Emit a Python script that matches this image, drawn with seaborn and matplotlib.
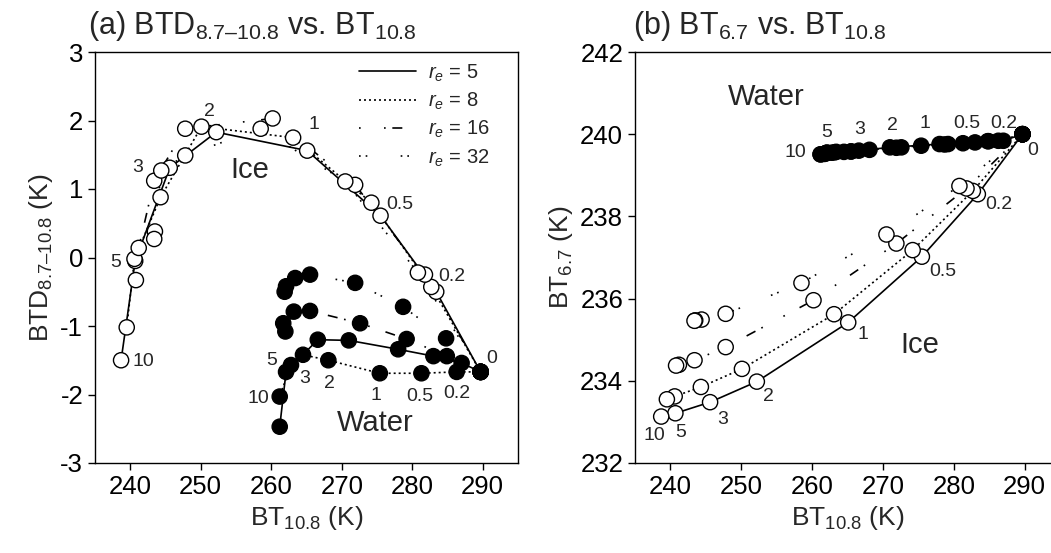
import numpy as np
import pandas as pd
import matplotlib
matplotlib.use('Agg')
import matplotlib.pyplot as plt
import seaborn as sns
from matplotlib.lines import Line2D

# optical depths and effective radii
tau = [0, 0.2, 0.5, 1, 2, 3, 5, 10]
re_list = [5, 8, 16, 32]

# ---- ice clouds ----
ice_bt108_re5 = [289.7, 283.4, 275.5, 265.1, 252.2, 245.6, 240.7, 238.7]
ice_bt108_re8 = [289.7, 282.7, 274.2, 263.1, 250.1, 244.3, 240.6, 239.5]
ice_bt108_re16 = [289.7, 281.8, 271.9, 260.2, 247.8, 243.4, 241.2, 240.8]
ice_bt108_re32 = [289.7, 280.8, 270.5, 258.5, 247.8, 244.4, 243.5, 243.4]

ice_btd_re5 = [-1.67, -0.50, 0.61, 1.56, 1.83, 1.31, -0.05, -1.50]
ice_btd_re8 = [-1.67, -0.43, 0.80, 1.75, 1.91, 0.88, -0.02, -1.02]
ice_btd_re16 = [-1.67, -0.25, 1.06, 2.03, 1.88, 1.12, 0.14, -0.33]
ice_btd_re32 = [-1.67, -0.22, 1.11, 1.88, 1.49, 1.27, 0.38, 0.27]

ice_bt67_re5 = [240.0, 238.54, 237.02, 235.42, 233.98, 233.48, 233.21, 233.13]
ice_bt67_re8 = [240.0, 238.62, 237.18, 235.62, 234.29, 233.85, 233.62, 233.55]
ice_bt67_re16 = [240.0, 238.68, 237.34, 235.96, 234.82, 234.50, 234.39, 234.37]
ice_bt67_re32 = [240.0, 238.74, 237.56, 236.38, 235.63, 235.49, 235.47, 235.46]

# ---- water clouds ----
wat_bt108_re5 = [289.7, 287.0, 283.0, 278.0, 271.0, 266.6, 262.1, 261.2]
wat_bt108_re8 = [289.7, 286.3, 281.3, 275.4, 268.1, 264.5, 262.8, 261.2]
wat_bt108_re16 = [289.7, 284.9, 279.2, 272.6, 265.5, 263.2, 262.0, 261.7]
wat_bt108_re32 = [289.7, 284.8, 278.7, 271.9, 265.5, 263.4, 262.1, 261.9]

wat_btd_re5 = [-1.67, -1.54, -1.44, -1.34, -1.21, -1.20, -1.67, -2.47]
wat_btd_re8 = [-1.67, -1.67, -1.69, -1.69, -1.50, -1.42, -1.57, -2.03]
wat_btd_re16 = [-1.67, -1.44, -1.19, -0.96, -0.78, -0.79, -1.08, -0.96]
wat_btd_re32 = [-1.67, -1.18, -0.72, -0.37, -0.25, -0.30, -0.42, -0.50]

wat_bt67_re5 = [240.0, 239.84, 239.80, 239.76, 239.68, 239.60, 239.55, 239.51]
wat_bt67_re8 = [240.0, 239.84, 239.78, 239.72, 239.62, 239.57, 239.55, 239.51]
wat_bt67_re16 = [240.0, 239.83, 239.76, 239.68, 239.58, 239.56, 239.54, 239.52]
wat_bt67_re32 = [240.0, 239.83, 239.75, 239.67, 239.58, 239.57, 239.55, 239.53]

# tau labels (text, x, y) for each panel
lab_a_ice = [('10', 241.8, -1.52), ('5', 237.9, -0.08), ('3', 241.1, 1.31), ('2', 251.3, 2.13),
             ('1', 266.0, 1.94), ('0.5', 278.2, 0.78), ('0.2', 285.6, -0.28)]
lab_a_wat = [('10', 258.2, -2.06), ('5', 260.1, -1.50), ('3', 264.8, -1.76), ('2', 268.3, -1.84),
             ('1', 274.9, -2.01), ('0.5', 281.1, -2.03), ('0.2', 286.3, -1.98), ('0', 291.2, -1.47)]
lab_b_ice = [('10', 237.7, 232.68), ('5', 241.5, 232.74), ('3', 247.4, 233.05), ('2', 253.8, 233.62),
             ('1', 267.2, 235.12), ('0.5', 278.4, 236.67), ('0.2', 286.4, 238.29)]
lab_b_wat = [('10', 257.6, 239.55), ('5', 262.0, 240.04), ('3', 266.7, 240.12), ('2', 271.4, 240.20),
             ('1', 275.9, 240.27), ('0.5', 281.8, 240.27), ('0.2', 287.1, 240.27), ('0', 291.1, 239.60)]

# tabela longa
rows = []
series = {
    ('Ice', 5): (ice_bt108_re5, ice_btd_re5, ice_bt67_re5),
    ('Ice', 8): (ice_bt108_re8, ice_btd_re8, ice_bt67_re8),
    ('Ice', 16): (ice_bt108_re16, ice_btd_re16, ice_bt67_re16),
    ('Ice', 32): (ice_bt108_re32, ice_btd_re32, ice_bt67_re32),
    ('Water', 5): (wat_bt108_re5, wat_btd_re5, wat_bt67_re5),
    ('Water', 8): (wat_bt108_re8, wat_btd_re8, wat_bt67_re8),
    ('Water', 16): (wat_bt108_re16, wat_btd_re16, wat_bt67_re16),
    ('Water', 32): (wat_bt108_re32, wat_btd_re32, wat_bt67_re32),
}
for (ph, re), (x, d, b) in series.items():
    for t, xi, di, bi in zip(tau, x, d, b):
        rows.append({'phase': ph, 're': re, 'tau': t, 'bt108': xi, 'btd': di, 'bt67': bi})
df = pd.DataFrame(rows)

sns.set_style('ticks')
plt.rcParams['font.family'] = ['Liberation Sans', 'DejaVu Sans']
plt.rcParams['mathtext.fontset'] = 'custom'
plt.rcParams['mathtext.rm'] = 'Liberation Sans'
plt.rcParams['mathtext.it'] = 'Liberation Sans:italic'
plt.rcParams['axes.edgecolor'] = 'black'
plt.rcParams['axes.linewidth'] = 1.0
plt.rcParams['axes.unicode_minus'] = False

line_styles = {5: '-', 8: (0, (1.2, 1.8)), 16: (0, (1, 14, 1, 4, 6, 10)), 32: (0, (1, 3, 1, 20))}
LW = 1.2

fig = plt.figure(figsize=(10.51, 5.53), dpi=100)
ax1 = fig.add_axes([95 / 1051, 90 / 553, 423 / 1051, 411 / 553])
ax2 = fig.add_axes([635 / 1051, 90 / 553, 425 / 1051, 411 / 553])


def desenha(ax, ycol):
    for ph in ['Ice', 'Water']:
        for re in re_list:
            sub = df[(df.phase == ph) & (df.re == re)]
            sns.lineplot(data=sub, x='bt108', y=ycol, ax=ax, sort=False, estimator=None,
                         color='black', lw=LW, linestyle=line_styles[re], legend=False, zorder=2)
    sns.scatterplot(data=df, x='bt108', y=ycol, hue='phase', hue_order=['Ice', 'Water'],
                    palette={'Ice': 'white', 'Water': 'black'}, edgecolor='black',
                    linewidth=1.0, s=120, ax=ax, legend=False, zorder=3)
    ax.set_xlim(235, 295)
    ax.set_xticks(range(240, 291, 10))
    ax.tick_params(direction='out', length=5, width=1, labelsize=18.5, colors='black')
    ax.set_xlabel('BT$_{10.8}$ (K)', fontsize=19)
    for s in ['top', 'right', 'left', 'bottom']:
        ax.spines[s].set_visible(True)
        ax.spines[s].set_color('black')


# (a)
desenha(ax1, 'btd')
ax1.set_ylim(-3, 3)
ax1.set_yticks(range(-3, 4))
ax1.set_ylabel('BTD$_{8.7\u201310.8}$ (K)', fontsize=19, labelpad=4)
for t, x, y in lab_a_ice + lab_a_wat:
    ax1.text(x, y, t, fontsize=14, ha='center', va='center')
ax1.text(257.0, 1.28, 'Ice', fontsize=21, ha='center', va='center')
ax1.text(274.7, -2.42, 'Water', fontsize=21, ha='center', va='center')

handles = [Line2D([], [], color='black', lw=LW, linestyle=line_styles[r]) for r in re_list]
labels = ['$r_e$ = %d' % r for r in re_list]
ax1.legend(handles, labels, loc='upper left', bbox_to_anchor=(0.625, 0.975), frameon=False,
           fontsize=14.5, handlelength=2.8, handletextpad=0.6, labelspacing=0.35, borderpad=0,
           borderaxespad=0)

# (b)
desenha(ax2, 'bt67')
ax2.set_ylim(232, 242)
ax2.set_yticks(range(232, 243, 2))
ax2.set_ylabel('BT$_{6.7}$ (K)', fontsize=19, labelpad=4)
for t, x, y in lab_b_ice + lab_b_wat:
    ax2.text(x, y, t, fontsize=14, ha='center', va='center')
ax2.text(275.2, 234.88, 'Ice', fontsize=21, ha='center', va='center')
ax2.text(253.5, 240.9, 'Water', fontsize=21, ha='center', va='center')

fig.text(88 / 1051, 1 - 34 / 553, '(a) BTD$_{8.7\u201310.8}$ vs. BT$_{10.8}$', fontsize=22, va='baseline')
fig.text(633 / 1051, 1 - 34 / 553, '(b) BT$_{6.7}$ vs. BT$_{10.8}$', fontsize=22, va='baseline')

fig.savefig('out.png', dpi=100)
